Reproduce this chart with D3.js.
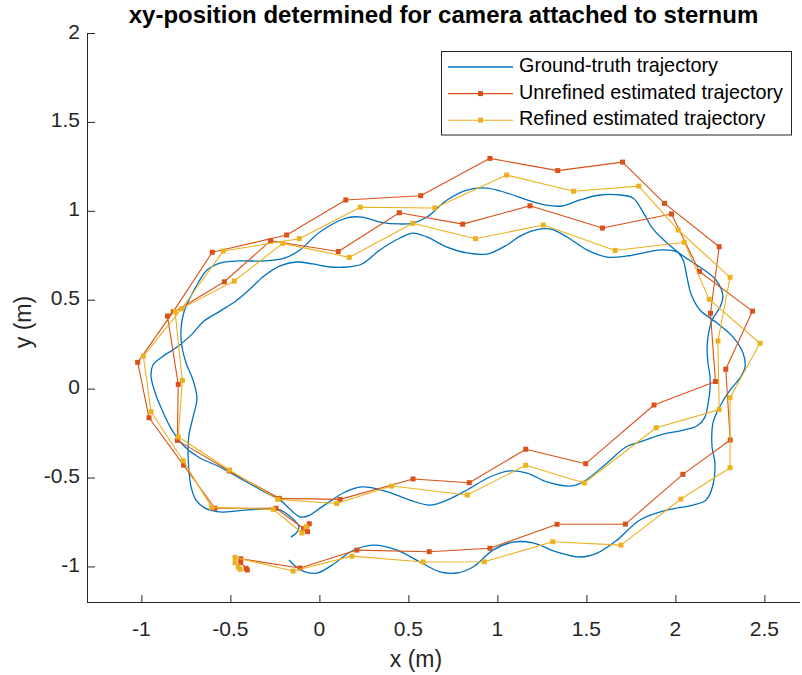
<!DOCTYPE html>
<html>
<head>
<meta charset="utf-8">
<script src="https://cdn.jsdelivr.net/npm/d3@7"></script>
<style>
  html, body { margin: 0; padding: 0; background: #ffffff; }
  svg { display: block; font-family: "Liberation Sans", Arial, Helvetica, sans-serif; }
</style>
</head>
<body>
<svg id="chart" width="802" height="675"></svg>
<script>
// Ground-truth trajectory (m)
const truthX = [-0.160,-0.126,-0.115,-0.154,-0.233,-0.322,-0.418,-0.547,-0.643,-0.693,-0.721,-0.733,-0.738,-0.733,-0.710,-0.688,-0.710,-0.749,-0.772,-0.778,-0.761,-0.727,-0.682,-0.631,-0.558,-0.446,-0.306,-0.193,-0.109,0.003,0.155,0.239,0.340,0.453,0.526,0.604,0.717,0.829,0.942,1.054,1.166,1.267,1.363,1.464,1.576,1.689,1.762,1.818,1.874,1.953,2.043,2.138,2.228,2.267,2.251,2.206,2.183,2.178,2.183,2.194,2.194,2.183,2.166,2.121,2.043,1.913,1.801,1.722,1.616,1.481,1.408,1.279,1.166,1.071,0.958,0.829,0.717,0.621,0.509,0.369,0.239,0.133,0.071,0.003,-0.053,-0.109,-0.154,-0.221,-0.306,-0.429,-0.558,-0.671,-0.755,-0.828,-0.884,-0.924,-0.946,-0.935,-0.884,-0.800,-0.721,-0.648,-0.558,-0.469,-0.390,-0.311,-0.221,-0.131,-0.036,0.060,0.155,0.239,0.340,0.453,0.526,0.604,0.717,0.829,0.942,1.054,1.127,1.211,1.296,1.391,1.503,1.616,1.728,1.840,1.930,2.009,2.043,2.065,2.088,2.138,2.234,2.324,2.380,2.391,2.363,2.307,2.251,2.211,2.206,2.222,2.211,2.172,2.099,1.953,1.801,1.672,1.560,1.464,1.335,1.200,1.088,0.975,0.863,0.773,0.678,0.565,0.436,0.301,0.183,0.088,-0.013,-0.092,-0.143,-0.171];
const truthY = [-0.835,-0.807,-0.778,-0.728,-0.677,-0.677,-0.683,-0.694,-0.672,-0.627,-0.553,-0.458,-0.362,-0.261,-0.160,-0.053,0.048,0.144,0.234,0.330,0.431,0.510,0.594,0.667,0.706,0.718,0.718,0.735,0.780,0.881,0.960,0.965,0.937,0.926,0.931,0.965,1.061,1.117,1.128,1.100,1.061,1.033,1.027,1.061,1.089,1.089,1.072,0.993,0.898,0.819,0.746,0.684,0.611,0.521,0.459,0.386,0.290,0.217,0.144,0.071,-0.008,-0.087,-0.160,-0.210,-0.233,-0.261,-0.300,-0.328,-0.418,-0.525,-0.548,-0.525,-0.475,-0.463,-0.497,-0.570,-0.627,-0.655,-0.627,-0.576,-0.553,-0.587,-0.627,-0.672,-0.711,-0.722,-0.688,-0.627,-0.582,-0.514,-0.441,-0.390,-0.328,-0.233,-0.120,-0.019,0.071,0.133,0.178,0.234,0.301,0.380,0.436,0.493,0.560,0.633,0.690,0.712,0.701,0.684,0.684,0.701,0.780,0.847,0.875,0.853,0.796,0.763,0.757,0.808,0.858,0.892,0.898,0.853,0.780,0.740,0.746,0.768,0.780,0.768,0.723,0.628,0.532,0.442,0.369,0.290,0.200,0.121,0.060,-0.008,-0.098,-0.193,-0.328,-0.418,-0.542,-0.627,-0.655,-0.683,-0.739,-0.852,-0.925,-0.947,-0.919,-0.868,-0.863,-0.908,-1.003,-1.037,-1.031,-0.975,-0.908,-0.880,-0.913,-0.981,-1.037,-1.026,-0.992,-0.964];

// Unrefined estimated trajectory (m)
const unrefinedX = [-0.057,-0.067,-0.089,-0.244,-0.587,-0.763,-0.957,-1.021,-0.821,-0.602,-0.184,0.148,0.569,0.958,1.339,1.703,1.939,2.246,2.197,2.225,1.880,1.496,1.159,0.842,0.526,0.116,-0.225,-0.506,-0.798,-0.793,-0.854,-0.534,-0.274,0.106,0.449,0.805,1.183,1.590,1.978,2.135,2.433,2.283,2.308,2.042,1.719,1.335,0.958,0.617,0.210,-0.109,-0.442,-0.442,-0.412,-0.405];
const unrefinedY = [-0.760,-0.804,-0.787,-0.673,-0.673,-0.430,-0.164,0.148,0.433,0.767,0.864,1.061,1.085,1.295,1.226,1.274,1.042,0.798,0.424,0.040,-0.092,-0.422,-0.341,-0.529,-0.508,-0.623,-0.617,-0.463,-0.291,0.024,0.408,0.601,0.832,0.771,0.989,0.925,1.028,0.903,0.982,0.659,0.436,0.109,-0.289,-0.482,-0.762,-0.763,-0.898,-0.917,-0.908,-1.009,-0.957,-0.979,-1.011,-1.020];

// Refined estimated trajectory (m)
const refinedX = [-0.075,-0.098,-0.259,-0.605,-0.765,-0.946,-0.989,-0.774,-0.540,-0.113,0.230,0.649,1.052,1.428,1.794,2.016,2.307,2.239,2.246,1.892,1.488,1.159,0.831,0.406,0.097,-0.233,-0.506,-0.793,-0.770,-0.811,-0.478,-0.206,0.168,0.524,0.877,1.258,1.661,2.050,2.190,2.475,2.307,2.307,2.031,1.694,1.311,0.926,0.582,0.183,-0.148,-0.474,-0.474,-0.456,-0.446];
const refinedY = [-0.777,-0.812,-0.679,-0.668,-0.406,-0.130,0.183,0.449,0.774,0.843,1.020,1.016,1.201,1.110,1.139,0.892,0.626,0.268,-0.118,-0.220,-0.531,-0.431,-0.598,-0.548,-0.646,-0.623,-0.458,-0.271,0.046,0.433,0.605,0.817,0.738,0.930,0.843,0.920,0.777,0.823,0.502,0.255,-0.051,-0.445,-0.621,-0.880,-0.861,-0.974,-0.975,-0.942,-1.026,-0.949,-0.979,-1.002,-1.016];

const xTicks = [-1, -0.5, 0, 0.5, 1, 1.5, 2, 2.5];
const yTicks = [-1, -0.5, 0, 0.5, 1, 1.5, 2];

const seriesNames = ["Ground-truth trajectory", "Unrefined estimated trajectory", "Refined estimated trajectory"];
const seriesColors = ["#0072BD", "#D95319", "#EDB120"];

const titleText = "xy-position determined for camera attached to sternum";
const xLabel = "x (m)";
const yLabel = "y (m)";

// ---- layout ----
const svg = d3.select("#chart");
const plot = { left: 88, right: 800, top: 33, bottom: 602 };
const axisColor = "#262626";

const x = d3.scaleLinear().domain([-1.3, 2.7]).range([plot.left, plot.right]);
const y = d3.scaleLinear().domain([-1.2, 2]).range([plot.bottom, plot.top]);

const toPoints = (xs, ys) => xs.map((v, i) => [v, ys[i]]);
const truth = toPoints(truthX, truthY);
const unrefined = toPoints(unrefinedX, unrefinedY);
const refined = toPoints(refinedX, refinedY);

// ---- axes (ticks point inward, no box) ----
const xAxis = d3.axisTop(x).tickValues(xTicks).tickSize(7).tickFormat(() => "");
const yAxis = d3.axisRight(y).tickValues(yTicks).tickSize(7).tickFormat(() => "");

const gx = svg.append("g").attr("transform", `translate(0,${plot.bottom})`).call(xAxis);
const gy = svg.append("g").attr("transform", `translate(${plot.left},0)`).call(yAxis);
[gx, gy].forEach(g => {
  g.select(".domain").remove();
  g.selectAll(".tick line").attr("stroke", axisColor).attr("stroke-width", 1);
});
svg.append("line")
  .attr("x1", plot.left).attr("x2", plot.right)
  .attr("y1", plot.bottom + 0.5).attr("y2", plot.bottom + 0.5)
  .attr("stroke", axisColor).attr("stroke-width", 1);
svg.append("line")
  .attr("x1", plot.left - 0.5).attr("x2", plot.left - 0.5)
  .attr("y1", plot.top).attr("y2", plot.bottom + 1)
  .attr("stroke", axisColor).attr("stroke-width", 1);

// tick labels
svg.append("g").selectAll("text").data(xTicks).join("text")
  .attr("x", d => x(d)).attr("y", 630)
  .attr("text-anchor", "middle").attr("dominant-baseline", "middle")
  .attr("font-size", 21).attr("fill", axisColor)
  .text(d => String(d));
svg.append("g").selectAll("text").data(yTicks).join("text")
  .attr("x", 80).attr("y", d => y(d))
  .attr("text-anchor", "end").attr("dominant-baseline", "middle")
  .attr("font-size", 21).attr("fill", axisColor)
  .text(d => String(d));

// axis labels and title
svg.append("text")
  .attr("x", 416).attr("y", 661)
  .attr("text-anchor", "middle").attr("dominant-baseline", "middle")
  .attr("font-size", 23).attr("fill", axisColor).text(xLabel);
svg.append("text")
  .attr("transform", `translate(25,322) rotate(-90)`)
  .attr("text-anchor", "middle").attr("dominant-baseline", "middle")
  .attr("font-size", 23).attr("fill", axisColor).text(yLabel);
svg.append("text")
  .attr("x", 443.5).attr("y", 17)
  .attr("text-anchor", "middle").attr("dominant-baseline", "middle")
  .attr("font-size", 24).attr("font-weight", "bold").attr("fill", "#000")
  .text(titleText);

// ---- data ----
const smooth = d3.line().x(d => x(d[0])).y(d => y(d[1])).curve(d3.curveCatmullRom.alpha(0.5));
const straight = d3.line().x(d => x(d[0])).y(d => y(d[1]));
const markerSize = 5;

svg.append("path").datum(truth)
  .attr("d", smooth).attr("fill", "none")
  .attr("stroke", seriesColors[0]).attr("stroke-width", 1.3);

[[unrefined, seriesColors[1]], [refined, seriesColors[2]]].forEach(([pts, col]) => {
  const g = svg.append("g");
  g.append("path").datum(pts)
    .attr("d", straight).attr("fill", "none")
    .attr("stroke", col).attr("stroke-width", 1.1).attr("stroke-linejoin", "round");
  g.selectAll("rect").data(pts).join("rect")
    .attr("x", d => x(d[0]) - markerSize / 2).attr("y", d => y(d[1]) - markerSize / 2)
    .attr("width", markerSize).attr("height", markerSize)
    .attr("fill", col);
});

// ---- legend ----
const legend = svg.append("g");
legend.append("rect")
  .attr("x", 441.5).attr("y", 51.5).attr("width", 350).attr("height", 83.5)
  .attr("fill", "#fff").attr("stroke", axisColor).attr("stroke-width", 1);
seriesNames.forEach((name, i) => {
  const ly = 67 + i * 26.6;
  legend.append("line")
    .attr("x1", 448).attr("x2", 513).attr("y1", ly).attr("y2", ly)
    .attr("stroke", seriesColors[i]).attr("stroke-width", i === 0 ? 1.3 : 1.1);
  if (i > 0) {
    legend.append("rect")
      .attr("x", 480.5 - markerSize / 2).attr("y", ly - markerSize / 2)
      .attr("width", markerSize).attr("height", markerSize)
      .attr("fill", seriesColors[i]);
  }
  legend.append("text")
    .attr("x", 519).attr("y", ly)
    .attr("dominant-baseline", "middle")
    .attr("font-size", 19.8).attr("fill", "#000")
    .text(name);
});
</script>
</body>
</html>
